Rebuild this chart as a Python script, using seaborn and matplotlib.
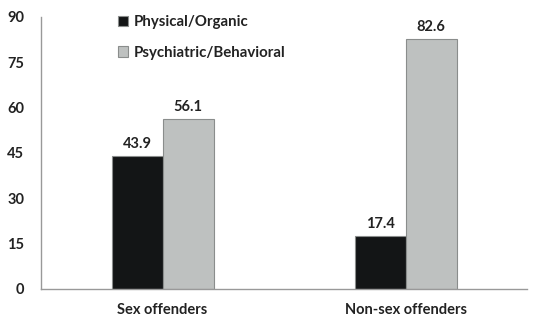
import pandas as pd
import matplotlib.pyplot as plt
import seaborn as sns

groups = ['Sex offenders', 'Non-sex offenders']
physical = [43.9, 17.4]
psychiatric = [56.1, 82.6]
series = ['Physical/Organic', 'Psychiatric/Behavioral']
colors = ['#121517', '#bec1c0']

df = pd.DataFrame({
    'group': groups * 2,
    'kind': [series[0]] * 2 + [series[1]] * 2,
    'value': physical + psychiatric,
})

sns.set_style('white')
plt.rcParams['font.family'] = ['Lato', 'DejaVu Sans']

fig = plt.figure(figsize=(5.33, 3.25), dpi=100)
ax = fig.add_axes([0.077, 0.111, 0.912, 0.837])

sns.barplot(data=df, x='group', y='value', hue='kind', palette=colors,
            width=0.42, edgecolor='#8a8d8c', linewidth=0.8, ax=ax)

for c in ax.containers:
    ax.bar_label(c, fmt='%.1f', padding=4, fontsize=10.5, fontweight='bold', color='#222222')

ax.set_ylim(0, 90)
ax.set_yticks(range(0, 91, 15))
ax.set_xlim(-0.5, 1.5)
ax.set_xlabel('')
ax.set_ylabel('')
ax.set_xticks([0, 1])
ax.set_xticks([0.5], minor=True)
ax.tick_params(axis='x', which='major', length=0, pad=10, labelsize=10.5)
ax.tick_params(axis='x', which='minor', length=3, color='#999999', direction='out')
ax.tick_params(axis='y', length=4, color='#999999', direction='out', labelsize=10.5, pad=8)
for lab in ax.get_xticklabels() + ax.get_yticklabels():
    lab.set_fontweight('bold')
    lab.set_color('#222222')

for s in ['top', 'right']:
    ax.spines[s].set_visible(False)
for s in ['left', 'bottom']:
    ax.spines[s].set_color('#999999')
    ax.spines[s].set_linewidth(1.0)

leg = ax.legend(loc='upper left', bbox_to_anchor=(0.13, 1.055), frameon=False,
                handlelength=0.7, handleheight=0.7, handletextpad=0.4,
                labelspacing=1.1, prop={'weight': 'bold', 'size': 10.8})
for t in leg.get_texts():
    t.set_color('#222222')

fig.savefig('out.png', dpi=100)
